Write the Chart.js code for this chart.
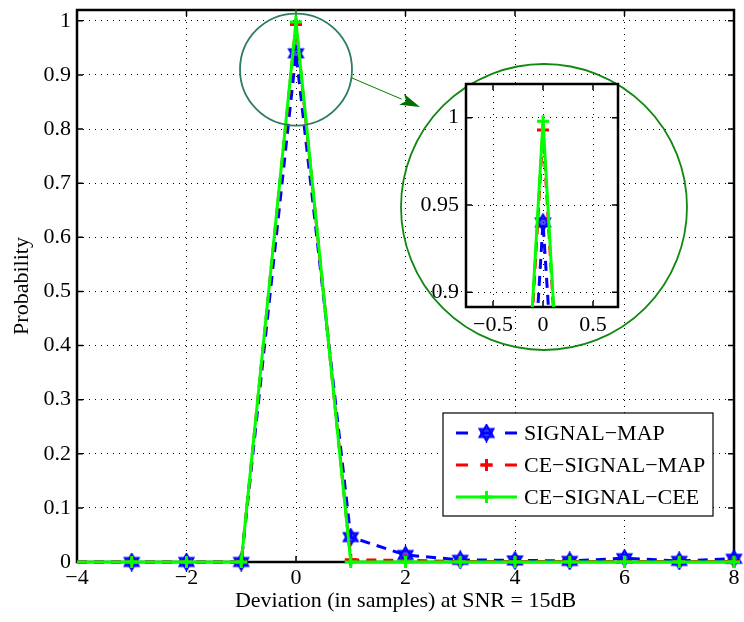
<!DOCTYPE html>
<html>
<head>
<meta charset="utf-8">
<script src="https://cdn.jsdelivr.net/npm/chart.js@4.4.1/dist/chart.umd.min.js"></script>
<style>
body { margin: 0; background: #fff; }
#wrap { position: relative; width: 744px; height: 622px; }
#wrap canvas { position: absolute; }
</style>
</head>
<body>
<div id="wrap">
  <canvas id="mainchart" width="744" height="622" style="left:0;top:0"></canvas>
  <canvas id="zoomchart" width="230" height="275" style="left:400px;top:70px"></canvas>
</div>
<script>
// values
var deviation = [-4, -3, -2, -1, 0, 1, 2, 3, 4, 5, 6, 7, 8];
var signalMap = [0, 0, 0, 0, 0.94, 0.046, 0.013, 0.004, 0.003, 0.002, 0.007, 0.002, 0.006];
var ceSignalMap = [0, 0, 0, 0, 0.993, 0.004, 0.003, 0.001, 0.001, 0.001, 0.001, 0.001, 0.001];
var ceSignalCee = [0, 0, 0, 0, 0.998, 0, 0, 0, 0, 0, 0, 0, 0];
var seriesNames = ['SIGNAL\u2212MAP', 'CE\u2212SIGNAL\u2212MAP', 'CE\u2212SIGNAL\u2212CEE'];

var xTicks = [-4, -2, 0, 2, 4, 6, 8];
var yTicks = [0, 0.1, 0.2, 0.3, 0.4, 0.5, 0.6, 0.7, 0.8, 0.9, 1];
var zoomXTicks = [-0.5, 0, 0.5];
var zoomYTicks = [0.9, 0.95, 1];

var FONT = 'Liberation Serif';

var makeHexagram = function(size, color) {
    var c = document.createElement('canvas');
    c.width = size;
    c.height = size;
    var g = c.getContext('2d');
    var cx = size / 2, cy = size / 2, r = size / 2 - 1.5;
    g.strokeStyle = color;
    g.fillStyle = 'rgba(0,0,255,0.45)';
    g.lineWidth = 2;
    g.lineJoin = 'miter';
    [-Math.PI / 2, Math.PI / 2].forEach(function(a0) {
        g.beginPath();
        for (var k = 0; k < 3; k++) {
            var a = a0 + k * 2 * Math.PI / 3;
            g.lineTo(cx + r * Math.cos(a), cy + r * Math.sin(a));
        }
        g.closePath();
        g.fill();
        g.stroke();
    });
    return c;
};
var hexStar = makeHexagram(19, '#0000ff');

var toPoints = function(ys) {
    return deviation.map(function(x, i) { return {x: x, y: ys[i]}; });
};
var fmt = function(v) {
    return String(v).replace('-', '\u2212');
};
var hideFirst = function(r) {
    return function(ctx) { return ctx.dataIndex === 0 ? 0 : r; };
};
var noPadX = function(h) {
    return function(s) { s.height = h; s.paddingLeft = 0; s.paddingRight = 0; };
};
var noPadY = function(w) {
    return function(s) { s.width = w; s.paddingTop = 0; s.paddingBottom = 0; };
};

var makeDatasets = function() {
    return [{
        label: seriesNames[0],
        data: toPoints(signalMap),
        borderColor: '#0000ff',
        backgroundColor: '#0000ff',
        borderWidth: 3,
        borderDash: [10, 7],
        pointStyle: hexStar,
        pointRadius: hideFirst(7),
        order: 3
    }, {
        label: seriesNames[1],
        data: toPoints(ceSignalMap),
        borderColor: '#ff0000',
        backgroundColor: '#ff0000',
        borderWidth: 3,
        borderDash: [10, 7],
        pointStyle: 'cross',
        pointRadius: hideFirst(6),
        pointBorderWidth: 3,
        order: 2
    }, {
        label: seriesNames[2],
        data: toPoints(ceSignalCee),
        borderColor: '#00ff00',
        backgroundColor: '#00ff00',
        borderWidth: 3,
        pointStyle: 'cross',
        pointRadius: hideFirst(6),
        pointBorderWidth: 3,
        order: 1
    }];
};

// matlab style box with inward ticks
var framePlugin = {
    id: 'frame',
    beforeDraw: function(chart) {
        var a = chart.chartArea, ctx = chart.ctx;
        ctx.save();
        ctx.fillStyle = '#fff';
        ctx.fillRect(a.left, a.top, a.right - a.left, a.bottom - a.top);
        ctx.restore();
    },
    beforeDatasetsDraw: function(chart) {
        var a = chart.chartArea, ctx = chart.ctx;
        var xs = chart.scales.x, ys = chart.scales.y;
        ctx.save();
        ctx.strokeStyle = '#000';
        ctx.lineWidth = 1.5;
        ctx.beginPath();
        xs.ticks.forEach(function(t) {
            var px = xs.getPixelForValue(t.value);
            ctx.moveTo(px, a.bottom); ctx.lineTo(px, a.bottom - 6);
            ctx.moveTo(px, a.top); ctx.lineTo(px, a.top + 6);
        });
        ys.ticks.forEach(function(t) {
            var py = ys.getPixelForValue(t.value);
            ctx.moveTo(a.left, py); ctx.lineTo(a.left + 6, py);
            ctx.moveTo(a.right, py); ctx.lineTo(a.right - 6, py);
        });
        ctx.stroke();
        ctx.lineWidth = 2.5;
        ctx.strokeRect(a.left, a.top, a.right - a.left, a.bottom - a.top);
        ctx.restore();
    }
};

var drawLegendMarker = function(ctx, ds, x, y) {
    if (ds.pointStyle === 'cross') {
        ctx.strokeStyle = ds.borderColor;
        ctx.lineWidth = 3;
        ctx.setLineDash([]);
        ctx.beginPath();
        ctx.moveTo(x - 6, y); ctx.lineTo(x + 6, y);
        ctx.moveTo(x, y - 6); ctx.lineTo(x, y + 6);
        ctx.stroke();
    } else {
        ctx.drawImage(ds.pointStyle, x - ds.pointStyle.width / 2, y - ds.pointStyle.height / 2);
    }
};

var annotationPlugin = {
    id: 'annot',
    afterDraw: function(chart) {
        var ctx = chart.ctx;
        var xs = chart.scales.x, ys = chart.scales.y;
        ctx.save();
        // circle round the peak
        ctx.strokeStyle = '#2e7d5e';
        ctx.lineWidth = 1.8;
        ctx.beginPath();
        ctx.arc(xs.getPixelForValue(0), ys.getPixelForValue(0.91), 56, 0, Math.PI * 2);
        ctx.stroke();
        // circle round the inset
        ctx.strokeStyle = '#118811';
        ctx.beginPath();
        ctx.arc(544, 207, 143, 0, Math.PI * 2);
        ctx.stroke();
        // arrow
        var x0 = 352, y0 = 78, x1 = 420, y1 = 107;
        var len = Math.hypot(x1 - x0, y1 - y0);
        var ux = (x1 - x0) / len, uy = (y1 - y0) / len;
        var bx = x1 - ux * 20, by = y1 - uy * 20;
        ctx.strokeStyle = '#008000';
        ctx.lineWidth = 1;
        ctx.beginPath();
        ctx.moveTo(x0, y0);
        ctx.lineTo(bx, by);
        ctx.stroke();
        ctx.fillStyle = '#007000';
        ctx.beginPath();
        ctx.moveTo(x1, y1);
        ctx.lineTo(bx - uy * 6, by + ux * 6);
        ctx.lineTo(x1 - ux * 15, y1 - uy * 15);
        ctx.lineTo(bx + uy * 6, by - ux * 6);
        ctx.closePath();
        ctx.fill();

        // legend
        var lx = 443, ly = 413, lw = 270, lh = 103;
        ctx.fillStyle = '#fff';
        ctx.fillRect(lx, ly, lw, lh);
        ctx.strokeStyle = '#000';
        ctx.lineWidth = 1.2;
        ctx.strokeRect(lx, ly, lw, lh);
        var rows = [433, 465, 497];
        chart.data.datasets.forEach(function(ds, i) {
            var y = rows[i];
            ctx.strokeStyle = ds.borderColor;
            ctx.lineWidth = 3;
            ctx.setLineDash(ds.borderDash ? [12, 12.5] : []);
            ctx.beginPath();
            ctx.moveTo(456, y);
            ctx.lineTo(517, y);
            ctx.stroke();
            ctx.setLineDash([]);
            drawLegendMarker(ctx, ds, 486.5, y);
            ctx.fillStyle = '#000';
            ctx.font = '22px "' + FONT + '"';
            ctx.textBaseline = 'middle';
            ctx.fillText(ds.label, 524, y + 1);
        });
        ctx.restore();
    }
};

var tickFont = {family: FONT, size: 22};

var mainChart = new Chart(document.getElementById('mainchart').getContext('2d'), {
    type: 'line',
    data: {datasets: makeDatasets()},
    options: {
        responsive: false,
        animation: false,
        events: [],
        clip: false,
        layout: {padding: {top: 7, right: 4, left: 0, bottom: 0}},
        plugins: {legend: {display: false}, tooltip: {enabled: false}},
        scales: {
            x: {
                type: 'linear',
                min: -4,
                max: 8,
                afterBuildTicks: function(s) { s.ticks = xTicks.map(function(v) { return {value: v}; }); },
                afterFit: noPadX(60),
                grid: {color: '#000', lineWidth: 1, drawTicks: false},
                border: {display: false, dash: [1, 5]},
                ticks: {font: tickFont, color: '#000', padding: 3, maxRotation: 0, callback: fmt},
                title: {display: true, text: 'Deviation (in samples) at SNR = 15dB', font: tickFont, color: '#000', padding: {top: 0, bottom: 8}}
            },
            y: {
                min: 0,
                max: 1.02,
                afterBuildTicks: function(s) { s.ticks = yTicks.map(function(v) { return {value: v}; }); },
                afterFit: noPadY(77),
                grid: {color: '#000', lineWidth: 1, drawTicks: false},
                border: {display: false, dash: [1, 5]},
                ticks: {font: tickFont, color: '#000', padding: 6, callback: fmt},
                title: {display: true, text: 'Probability', font: tickFont, color: '#000', padding: {top: 9, bottom: 0}}
            }
        }
    },
    plugins: [framePlugin, annotationPlugin]
});

var zoomChart = new Chart(document.getElementById('zoomchart').getContext('2d'), {
    type: 'line',
    data: {datasets: makeDatasets()},
    options: {
        responsive: false,
        animation: false,
        events: [],
        layout: {padding: {top: 14, right: 12, left: 0, bottom: 0}},
        plugins: {legend: {display: false}, tooltip: {enabled: false}},
        scales: {
            x: {
                type: 'linear',
                min: -0.77,
                max: 0.75,
                afterBuildTicks: function(s) { s.ticks = zoomXTicks.map(function(v) { return {value: v}; }); },
                afterFit: noPadX(38),
                grid: {color: '#000', lineWidth: 1, drawTicks: false},
                border: {display: false, dash: [1, 5]},
                ticks: {font: tickFont, color: '#000', padding: 5, maxRotation: 0, callback: fmt}
            },
            y: {
                min: 0.8916,
                max: 1.0193,
                afterBuildTicks: function(s) { s.ticks = zoomYTicks.map(function(v) { return {value: v}; }); },
                afterFit: noPadY(66),
                grid: {color: '#000', lineWidth: 1, drawTicks: false},
                border: {display: false, dash: [1, 5]},
                ticks: {font: tickFont, color: '#000', padding: 7, callback: fmt}
            }
        }
    },
    plugins: [framePlugin]
});
</script>
</body>
</html>
